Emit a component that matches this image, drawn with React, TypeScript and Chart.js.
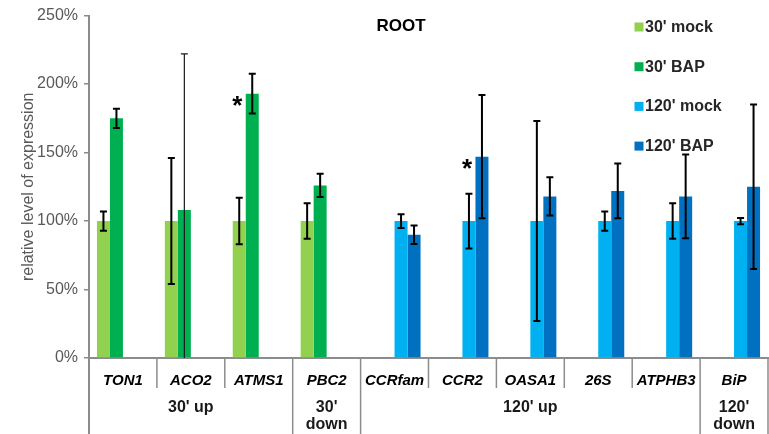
import React, { useEffect, useRef } from "react";
import { Chart, registerables } from "chart.js";

Chart.register(...registerables);

const FONT = "'Liberation Sans', Arial, Helvetica, sans-serif";

const genes = ["TON1", "ACO2", "ATMS1", "PBC2", "CCRfam", "CCR2", "OASA1", "26S", "ATPHB3", "BiP"];
const groupNames = ["30' up", "30'\ndown", "120' up", "120'\ndown"];
const groupStart = [0, 3, 4, 9];
const groupEnd = [2, 3, 8, 9];

const seriesNames = ["30' mock", "30' BAP", "120' mock", "120' BAP"];
const seriesColors = ["#92D050", "#00B050", "#00B0F0", "#0070C0"];

const mock30 = [100, 100, 100, 100, null, null, null, null, null, null];
const bap30 = [175, 108, 193, 126, null, null, null, null, null, null];
const mock120 = [null, null, null, null, 100, 100, 100, 100, 100, 100];
const bap120 = [null, null, null, null, 90, 147, 118, 122, 118, 125];

const errMock30 = [7, 46, 17, 13, null, null, null, null, null, null];
const errBap30 = [7, 114, 14.5, 8.5, null, null, null, null, null, null];
const errMock120 = [null, null, null, null, 5, 20, 73, 7, 13, 2.3];
const errBap120 = [null, null, null, null, 6.7, 45, 14, 20, 30.5, 60];

const significant = [
  { series: 1, gene: "ATMS1" },
  { series: 3, gene: "CCR2" },
];
const thinErrors = [{ series: 1, gene: "ACO2" }];

const yTicksMax = 250;
const yTickStep = 50;

const overlay = {
  id: "overlay",
  afterDatasetsDraw(chart: any) {
    const ctx = chart.ctx;
    const y = chart.scales.y;
    const errs = [errMock30, errBap30, errMock120, errBap120];
    ctx.save();
    errs.forEach((arr, di) => {
      const meta = chart.getDatasetMeta(di);
      const vals = chart.data.datasets[di].data;
      meta.data.forEach((bar: any, i: number) => {
        const v = vals[i];
        const e = arr[i];
        if (v == null || e == null) return;
        const thin = thinErrors.some((t) => t.series === di && genes.indexOf(t.gene) === i);
        const yt = y.getPixelForValue(v + e);
        const yb = y.getPixelForValue(Math.max(0, v - e));
        ctx.strokeStyle = thin ? "#1a1a1a" : "#000";
        ctx.lineWidth = thin ? 1.2 : 2;
        ctx.beginPath();
        ctx.moveTo(bar.x, yt);
        ctx.lineTo(bar.x, yb);
        ctx.moveTo(bar.x - 3.5, yt);
        ctx.lineTo(bar.x + 3.5, yt);
        if (v - e > 0) {
          ctx.moveTo(bar.x - 3.5, yb);
          ctx.lineTo(bar.x + 3.5, yb);
        }
        ctx.stroke();
      });
    });
    // significance asterisks
    ctx.fillStyle = "#000";
    ctx.font = `bold 26px ${FONT}`;
    ctx.textAlign = "center";
    ctx.textBaseline = "alphabetic";
    significant.forEach((s) => {
      const i = genes.indexOf(s.gene);
      const bar: any = chart.getDatasetMeta(s.series).data[i];
      ctx.fillText("*", bar.x - 15, bar.y + 20);
    });
    ctx.restore();
  },
  afterDraw(chart: any) {
    const ctx = chart.ctx;
    const x = chart.scales.x;
    const area = chart.chartArea;
    const H = chart.height;
    const n = genes.length;
    const bound = (k: number) => x.getPixelForValue(k - 0.5);
    const major = new Set<number>([...groupStart, n]);
    ctx.save();
    ctx.strokeStyle = "#8c8c8c";
    for (let k = 0; k <= n; k++) {
      const px = k === 0 ? area.left : bound(k);
      ctx.lineWidth = k === 0 ? 2 : 1.5;
      ctx.beginPath();
      ctx.moveTo(px, area.bottom);
      ctx.lineTo(px, major.has(k) ? H : 388);
      ctx.stroke();
    }
    // group labels
    ctx.fillStyle = "#1a1a1a";
    ctx.font = `bold 16px ${FONT}`;
    ctx.textAlign = "center";
    ctx.textBaseline = "middle";
    groupNames.forEach((g, gi) => {
      const cx = (bound(groupStart[gi]) + bound(groupEnd[gi] + 1)) / 2;
      g.split("\n").forEach((line, li) => {
        ctx.fillText(line, cx, 408 + li * 16.5);
      });
    });
    // title
    ctx.fillStyle = "#000";
    ctx.font = `bold 17px ${FONT}`;
    ctx.fillText("ROOT", 401, 26);
    // legend
    ctx.textAlign = "left";
    ctx.font = `bold 16px ${FONT}`;
    seriesNames.forEach((name, i) => {
      const cy = 27 + i * 39.7;
      ctx.fillStyle = seriesColors[i];
      ctx.fillRect(634.5, cy - 4.5, 9, 9);
      ctx.fillStyle = "#262626";
      ctx.fillText(name, 645, cy + 0.5);
    });
    ctx.restore();
  },
};

export default function App() {
  const ref = useRef<HTMLCanvasElement>(null);
  useEffect(() => {
    if (!ref.current) return;
    const series = [mock30, bap30, mock120, bap120];
    const chart = new Chart(ref.current, {
      type: "bar",
      data: {
        labels: genes,
        datasets: series.map((d, i) => ({
          label: seriesNames[i],
          data: d,
          backgroundColor: seriesColors[i],
          borderWidth: 0,
          categoryPercentage: 0.766,
          barPercentage: 1,
        })),
      },
      options: {
        animation: false,
        responsive: false,
        devicePixelRatio: 1,
        layout: { padding: { top: 15, left: 15, right: 1, bottom: 0 } },
        plugins: {
          legend: { display: false },
          title: { display: false },
          tooltip: { enabled: false },
        },
        scales: {
          x: {
            type: "category",
            offset: true,
            grid: { display: false },
            border: { display: true, color: "#8c8c8c", width: 2 },
            ticks: {
              autoSkip: false,
              maxRotation: 0,
              minRotation: 0,
              padding: 6,
              color: "#000",
              font: { family: FONT, size: 15, style: "italic", weight: "bold" },
            },
            afterFit: (s: any) => {
              s.height = 76;
            },
          },
          y: {
            min: 0,
            max: yTicksMax,
            grid: {
              display: true,
              drawOnChartArea: false,
              drawTicks: true,
              tickLength: 5,
              color: "#8c8c8c",
              lineWidth: 1.5,
            },
            border: { display: true, color: "#8c8c8c", width: 2 },
            ticks: {
              stepSize: yTickStep,
              padding: 6,
              color: "#595959",
              font: { family: FONT, size: 16 },
              callback: (v: any) => `${v}%`,
            },
            title: {
              display: true,
              text: "relative level of expression",
              color: "#595959",
              font: { family: FONT, size: 16 },
              padding: { top: 4, bottom: 4 },
            },
            afterFit: (s: any) => {
              s.width = 74;
            },
          },
        },
      },
      plugins: [overlay],
    });
    return () => chart.destroy();
  }, []);
  return (
    <div style={{ position: "absolute", left: 0, top: 0, width: 769, height: 434 }}>
      <canvas ref={ref} width={769} height={434} style={{ display: "block" }} />
    </div>
  );
}
